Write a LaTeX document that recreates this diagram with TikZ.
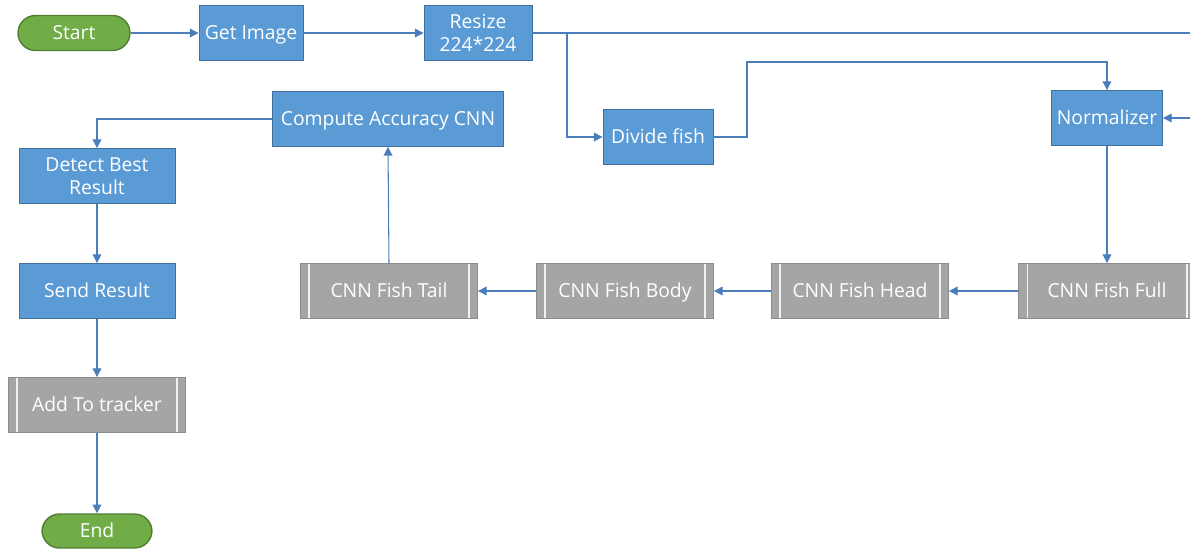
\documentclass[tikz,border=0pt]{standalone}
\usepackage{fontspec}
\setmainfont{Open Sans}
\usepackage{tikz}
\usetikzlibrary{arrows.meta,positioning}
\definecolor{flowblue}{HTML}{5B9BD5}
\definecolor{flowblueline}{HTML}{41719C}
\definecolor{flowgrey}{HTML}{A5A5A5}
\definecolor{flowgreyline}{HTML}{8C8C8C}
\definecolor{flowgreen}{HTML}{70AD47}
\definecolor{flowgreenline}{HTML}{507E32}
\definecolor{linkblue}{HTML}{4A7EBB}

\tikzset{
  procbase/.style={rectangle, fill=flowblue, draw=flowblueline, line width=0.5pt,
    text=white, font=\fontsize{11}{13}\selectfont, align=center,
    minimum height=1.1cm, inner sep=2pt},
  proc/.style={procbase, text height=1.6ex, text depth=0.3ex},
  subproc/.style={proc, fill=flowgrey, draw=flowgreyline,
    minimum width=3.54cm,
    path picture={
      \draw[white!85!flowgrey, line width=0.6pt]
        ([xshift=0.17cm]path picture bounding box.north west) --
        ([xshift=0.17cm]path picture bounding box.south west);
      \draw[white!85!flowgrey, line width=0.6pt]
        ([xshift=-0.17cm]path picture bounding box.north east) --
        ([xshift=-0.17cm]path picture bounding box.south east);
    }},
  term/.style={proc, fill=flowgreen, draw=flowgreenline,
    line width=0.8pt, rounded corners=0.35cm, minimum height=0.7cm},
  link/.style={draw=linkblue, line width=0.6pt,
    -{Triangle[length=5pt, width=5pt]}},
}

\begin{document}
\begin{tikzpicture}[x=0.02cm, y=-0.02cm]
  % page frame, the right side runs off the page
  \path[use as bounding box, clip] (0,0) rectangle (1190,550);

  % top row
  \node[term, minimum width=2.24cm] (start) at (74,33) {Start};
  \node[proc, minimum width=2.08cm] (getimg) at (251,33) {Get Image};
  \node[procbase, minimum width=2.16cm] (resize) at (478,33) {Resize\\224*224};
  \node[proc, minimum width=2.2cm] (divide) at (658,137) {Divide fish};
  \node[proc, minimum width=2.22cm] (norm) at (1107,118) {Normalizer};

  % CNN row
  \node[subproc] (full) at (1107,291) {CNN Fish Full};
  \node[subproc] (head) at (860,291) {CNN Fish Head};
  \node[subproc] (body) at (625,291) {CNN Fish Body};
  \node[subproc] (tail) at (389,291) {CNN Fish Tail};
  \node[proc, minimum width=4.62cm] (accuracy) at (388,119) {Compute Accuracy CNN};

  % left column
  \node[procbase, minimum width=3.12cm] (best) at (97,176) {Detect Best\\Result};
  \node[proc, minimum width=3.12cm] (send) at (97,291) {Send Result};
  \node[subproc] (tracker) at (97,405) {Add To tracker};
  \node[term, minimum width=2.2cm, minimum height=0.68cm] (end) at (97,531) {End};

  % helper points for the routed links
  \coordinate (split) at (567,33);
  \coordinate (topout) at (1200,33);
  \coordinate (normin) at (1200,118);
  \coordinate (bend) at (747,62);

  % links
  \draw[link] (start) -- (getimg);
  \draw[link] (getimg) -- (resize);
  \draw[draw=linkblue, line width=0.6pt] (resize) -- (topout);
  \draw[link] (split) |- (divide);
  \draw[link] (divide.east) -| (bend) -| (norm.north);
  \draw[link] (normin) -- (norm.east);
  \draw[link] (norm) -- (full);
  \draw[link] (full) -- (head);
  \draw[link] (head) -- (body);
  \draw[link] (body) -- (tail);
  \draw[link] (tail.north) -- (accuracy.south);
  \draw[link] (accuracy.west) -| (best.north);
  \draw[link] (best) -- (send);
  \draw[link] (send) -- (tracker);
  \draw[link] (tracker) -- (end);
\end{tikzpicture}
\end{document}
